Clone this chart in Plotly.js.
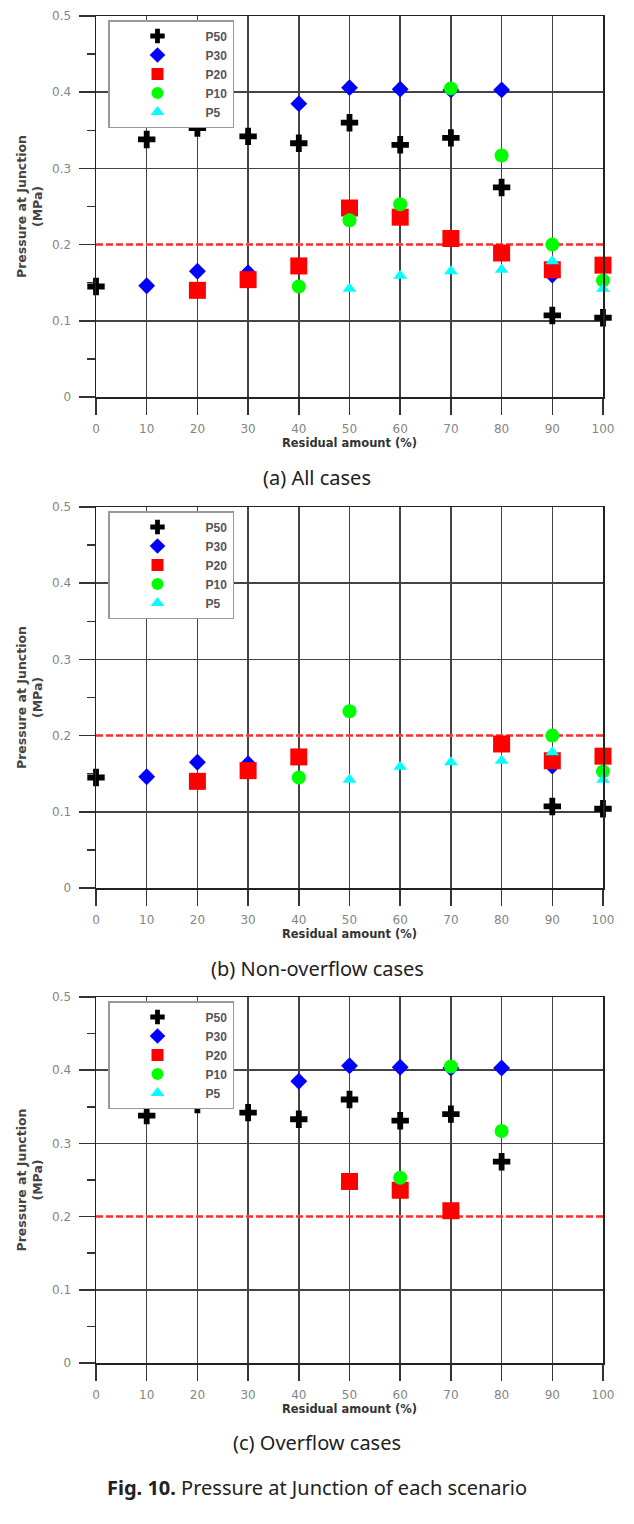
<!DOCTYPE html>
<html>
<head>
<meta charset="utf-8">
<script src="https://cdn.plot.ly/plotly-3.0.1.min.js"></script>
<style>
  body { margin: 0; background: #fff; }
  #chart { width: 634px; height: 1524px; }
</style>
</head>
<body>
<div id="chart"></div>
<script>
// residual amount (%) on the x axis
const residual = [0, 10, 20, 30, 40, 50, 60, 70, 80, 90, 100];

// non-overflow cases, pressure at junction (MPa)
const noP50 = [0.145, null, null, null, null, null, null, null, null, 0.107, 0.104];
const noP30 = [null, 0.146, 0.165, 0.163, null, null, null, null, null, 0.160, null];
const noP20 = [null, null, 0.140, 0.154, 0.172, null, null, null, 0.189, 0.167, 0.173];
const noP10 = [null, null, null, null, 0.145, 0.232, null, null, null, 0.200, 0.153];
const noP5  = [null, null, null, null, null, 0.142, 0.159, 0.165, 0.167, 0.178, 0.142];

// overflow cases
const ovP50 = [null, 0.338, 0.353, 0.342, 0.333, 0.360, 0.331, 0.340, 0.275, null, null];
const ovP30 = [null, null, null, null, 0.385, 0.406, 0.404, 0.403, 0.403, null, null];
const ovP20 = [null, null, null, null, null, 0.248, 0.236, 0.208, null, null, null];
const ovP10 = [null, null, null, null, null, null, 0.253, 0.405, 0.317, null, null];
const ovP5  = [null, null, null, null, null, null, null, null, null, null, null];

const seriesNames = ['P50', 'P30', 'P20', 'P10', 'P5'];
const threshold = 0.2;

// all cases = both sets together
const merge = (a, b) => a.map((v, i) => v !== null ? v : b[i]);
const overflow = [ovP50, ovP30, ovP20, ovP10, ovP5];
const nonOverflow = [noP50, noP30, noP20, noP10, noP5];
const panels = [
  nonOverflow.map((s, i) => merge(s, overflow[i])),
  nonOverflow,
  overflow
];

const styles = [
  {symbol: 'cross', size: 14.5, color: '#000000', line: {width: 0}},
  {symbol: 'diamond', size: 13, color: '#0000ff', line: {width: 0}},
  {symbol: 'square', size: 17, color: '#ff0000', line: {width: 0}},
  {symbol: 'circle', size: 14, color: '#00ff00', line: {width: 0}},
  {symbol: 'triangle-up', size: 12, color: '#00ffff', line: {width: 0}}
];

const W = 634, H = 1524;
const py = p => 1 - p / H;
const boxes = [[16, 397], [507, 888], [997, 1363]];
const legendTops = [20, 511, 1001];
const captions = [['(a) All cases', 478], ['(b) Non-overflow cases', 968], ['(c) Overflow cases', 1442]];
const font = 'Liberation Sans, Arial, sans-serif';
const wideFont = 'DejaVu Sans, sans-serif';

const data = [];
const layout = {
  width: W, height: H,
  margin: {l: 0, r: 0, t: 0, b: 0},
  paper_bgcolor: '#fff', plot_bgcolor: '#fff',
  font: {family: font},
  shapes: [], annotations: []
};

panels.forEach((sets, p) => {
  const sfx = p ? String(p + 1) : '';
  const legendId = 'legend' + sfx;

  sets.forEach((vals, s) => {
    data.push({
      type: 'scatter', mode: 'markers',
      x: residual, y: vals,
      xaxis: 'x' + sfx, yaxis: 'y' + sfx,
      name: seriesNames[s], legend: legendId,
      cliponaxis: false,
      marker: styles[s]
    });
  });

  layout['xaxis' + sfx] = {
    domain: [96 / W, 603 / W], anchor: 'y' + sfx,
    range: [0, 100], tick0: 0, dtick: 10,
    ticks: 'outside', ticklen: 16, tickwidth: 1.5, tickcolor: '#333',
    showgrid: true, gridcolor: '#444', gridwidth: 1.5,
    showline: true, linecolor: '#222', linewidth: 1.5, mirror: true,
    zeroline: false, ticklabelstandoff: 4,
    tickfont: {family: wideFont, size: 12, color: '#858585'},
    title: {text: 'Residual amount (%)', standoff: 2, font: {family: wideFont, size: 11.5, color: '#333', weight: 'bold'}}
  };
  layout['yaxis' + sfx] = {
    domain: [py(boxes[p][1]), py(boxes[p][0])], anchor: 'x' + sfx,
    range: [0, 0.5], tick0: 0, dtick: 0.1,
    ticks: 'outside', ticklen: 16, tickwidth: 1.5, tickcolor: '#333',
    minor: {dtick: 0.05, ticks: 'outside', ticklen: 8, tickwidth: 1.5, tickcolor: '#333', showgrid: false},
    showgrid: true, gridcolor: '#444', gridwidth: 1.5,
    showline: true, linecolor: '#222', linewidth: 1.5, mirror: true,
    zeroline: false, ticklabelstandoff: 5,
    tickfont: {family: wideFont, size: 12, color: '#858585'},
    title: {text: 'Pressure at Junction<br>(MPa)', standoff: 6, font: {family: wideFont, size: 12.5, color: '#444', weight: 'bold'}}
  };

  layout[legendId] = {
    x: 108 / W, y: py(legendTops[p]), xanchor: 'left', yanchor: 'top',
    bgcolor: '#fff', bordercolor: '#999', borderwidth: 1.5,
    itemwidth: 86, itemsizing: 'constant', itemclick: false,
    font: {size: 12, color: '#555', weight: 'bold'}
  };

  layout.shapes.push({
    type: 'line', xref: 'x' + sfx, yref: 'y' + sfx, layer: 'between',
    x0: 0, x1: 100, y0: threshold, y1: threshold,
    line: {color: '#ffffff', width: 2.5}
  });
  layout.shapes.push({
    type: 'line', xref: 'x' + sfx, yref: 'y' + sfx, layer: 'between',
    x0: 0, x1: 100, y0: threshold, y1: threshold,
    line: {color: '#ff2a2a', width: 2.5, dash: '7px,3px'}
  });

  layout.annotations.push({
    xref: 'paper', yref: 'paper', x: 317 / W, y: py(captions[p][1]),
    xanchor: 'center', yanchor: 'middle', showarrow: false,
    text: captions[p][0], font: {family: 'Noto Sans, sans-serif', size: 20, color: '#222'}
  });
});

layout.annotations.push({
  xref: 'paper', yref: 'paper', x: 317 / W, y: py(1487),
  xanchor: 'center', yanchor: 'middle', showarrow: false,
  text: '<b>Fig. 10.</b> Pressure at Junction of each scenario',
  font: {family: 'Noto Sans, sans-serif', size: 20, color: '#222'}
});

Plotly.newPlot('chart', data, layout, {staticPlot: true});
</script>
</body>
</html>
